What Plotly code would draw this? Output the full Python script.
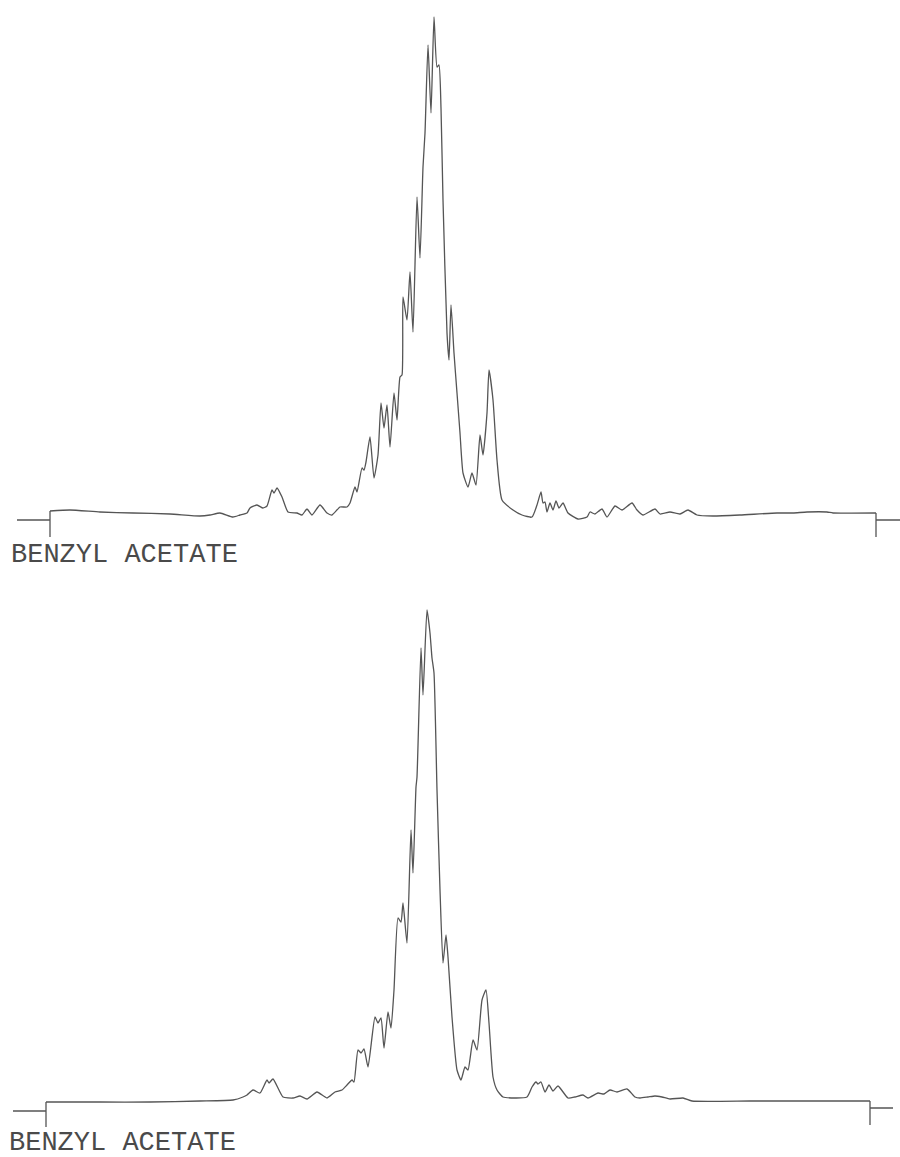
import plotly.graph_objects as go

# Top spectrum (channel, relative intensity)
top_x = [50, 70, 100, 133, 170, 200, 210, 220, 233, 240, 247, 250, 257, 263, 267, 272, 274,
         277, 282, 288, 297, 302, 307, 312, 320, 327, 332, 340, 347, 350, 355, 357, 362, 364, 366, 370, 374,
         378, 381, 384, 387, 390, 394, 397, 400, 402, 403, 407, 410, 413, 417, 420, 423, 425, 428, 431, 434,
         437, 439, 441, 443, 447, 449, 451, 454, 457, 460, 463, 468, 472, 476, 480, 483, 487, 489, 493, 497,
         502, 513, 522, 532, 537, 541, 543, 545, 547, 550, 553, 556, 559, 563, 568, 578, 587, 590, 595, 602,
         607, 615, 622, 632, 637, 643, 655, 660, 670, 680, 688, 697, 713, 740, 777, 793, 807, 827, 833, 876]
top_y = [9, 10, 8, 7, 6, 4, 5, 7, 3, 5, 7, 12, 15, 12, 14, 30, 27,
         32, 23, 8, 7, 5, 11, 5, 15, 7, 5, 13, 13, 17, 33, 28, 52, 50, 58, 83, 42,
         65, 117, 92, 115, 73, 127, 100, 143, 145, 223, 200, 248, 188, 323, 262, 353, 387, 475, 407, 503,
         453, 455, 412, 320, 187, 160, 215, 167, 127, 87, 47, 33, 47, 35, 85, 65, 107, 150, 120, 60,
         20, 10, 5, 3, 15, 28, 17, 18, 8, 17, 10, 19, 12, 17, 7, 1, 3, 8, 6, 11,
         3, 14, 10, 17, 10, 5, 11, 6, 8, 6, 10, 5, 4, 5, 7, 7, 8, 8, 7, 7]
# End markers of the top trace
top_left_x, top_left_y = [17, 50, 50, 50], [0, 0, -17, 9]
top_right_x, top_right_y = [876, 876, 876, 900], [7, -17, 0, 0]

# Bottom spectrum
bot_x = [46, 100, 150, 200, 233, 243, 247, 253, 260, 267, 269, 273, 283, 293, 300, 307, 317,
         327, 335, 342, 347, 352, 354, 358, 361, 364, 368, 375, 378, 381, 384, 388, 391, 394, 398, 401, 403,
         407, 411, 413, 416, 417, 421, 423, 427, 430, 432, 434, 437, 440, 443, 446, 448, 452, 457, 461, 465,
         468, 473, 477, 482, 486, 489, 493, 497, 503, 527, 532, 536, 538, 541, 545, 549, 553, 558, 568, 575,
         583, 588, 598, 604, 610, 617, 627, 635, 640, 648, 655, 662, 670, 683, 692, 750, 800, 870]
bot_y = [9, 9, 9, 10, 11, 14, 16, 21, 18, 31, 28, 32, 14, 13, 15, 12, 19,
         13, 19, 21, 26, 31, 29, 61, 58, 62, 44, 94, 88, 93, 63, 99, 83, 121, 193, 189, 208,
         168, 281, 238, 324, 334, 463, 416, 501, 478, 453, 438, 321, 221, 148, 176, 154, 94, 41, 31, 44,
         41, 71, 61, 111, 121, 88, 34, 21, 14, 14, 24, 29, 27, 29, 19, 26, 20, 25, 13, 14,
         16, 13, 18, 17, 21, 19, 22, 14, 13, 14, 15, 14, 12, 13, 10, 10, 10, 10]
bot_left_x, bot_left_y = [13, 46, 46, 46], [0, 0, -16, 9]
bot_right_x, bot_right_y = [870, 870, 870, 893], [10, -14, 3, 3]

labels = ["BENZYL ACETATE", "BENZYL ACETATE"]

H = 1157
spec_line = dict(color="#555555", width=1.3, shape="spline", smoothing=0.5)
mark_line = dict(color="#555555", width=1.3)

fig = go.Figure()
for xs, ys, ln, xa, ya in [
    (top_x, top_y, spec_line, "x", "y"),
    (top_left_x, top_left_y, mark_line, "x", "y"),
    (top_right_x, top_right_y, mark_line, "x", "y"),
    (bot_x, bot_y, spec_line, "x2", "y2"),
    (bot_left_x, bot_left_y, mark_line, "x2", "y2"),
    (bot_right_x, bot_right_y, mark_line, "x2", "y2"),
]:
    fig.add_trace(go.Scatter(x=xs, y=ys, mode="lines", line=ln, xaxis=xa, yaxis=ya,
                             showlegend=False, hoverinfo="skip"))

ax_common = dict(visible=False, showgrid=False, zeroline=False, fixedrange=True)
label_font = dict(family="Liberation Mono", size=27, color="#4a4a4a")
fig.update_layout(
    width=900, height=H,
    margin=dict(l=0, r=0, t=0, b=0),
    paper_bgcolor="white", plot_bgcolor="white",
    xaxis=dict(range=[0, 900], domain=[0, 1], anchor="y", **ax_common),
    yaxis=dict(range=[-20, 520], domain=[617 / H, 1], anchor="x", **ax_common),
    xaxis2=dict(range=[0, 900], domain=[0, 1], anchor="y2", **ax_common),
    yaxis2=dict(range=[-46, 551], domain=[0, 597 / H], anchor="x2", **ax_common),
    annotations=[
        dict(text=labels[0], x=9 / 900, y=(H - 555) / H, xref="paper", yref="paper",
             xanchor="left", yanchor="middle", showarrow=False, font=label_font),
        dict(text=labels[1], x=7 / 900, y=(H - 1143) / H, xref="paper", yref="paper",
             xanchor="left", yanchor="middle", showarrow=False, font=label_font),
    ],
)

fig.write_html("out.html")
